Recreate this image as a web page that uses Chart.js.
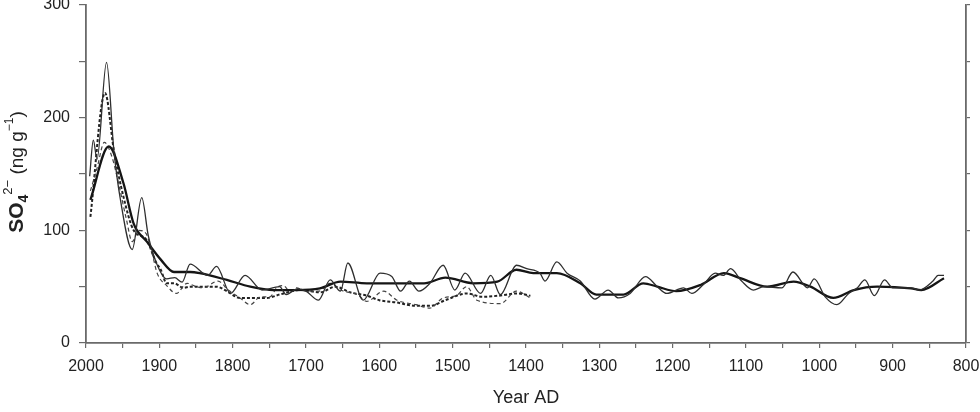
<!DOCTYPE html>
<html>
<head>
<meta charset="utf-8">
<script src="https://cdn.jsdelivr.net/npm/chart.js@4"></script>
<style>
  html, body { margin: 0; padding: 0; background: #fff; }
  #wrap { width: 980px; height: 412px; }
</style>
</head>
<body>
<div id="wrap"><canvas id="chart" width="980" height="412"></canvas></div>
<script>
// ============================================================
// Data
// ============================================================

// thin solid line, long core
const thinYears = [1995, 1990, 1985, 1972, 1962, 1953, 1937, 1924, 1915, 1904, 1890, 1879, 1869, 1858, 1834, 1822, 1803, 1783, 1760, 1736, 1727, 1712, 1700, 1683, 1667, 1653, 1643, 1622, 1599, 1583, 1571, 1559, 1546, 1531, 1513, 1497, 1483, 1462, 1448, 1435, 1413, 1399, 1381, 1374, 1358, 1344, 1326, 1306, 1288, 1274, 1258, 1237, 1221, 1208, 1185, 1174, 1158, 1142, 1131, 1121, 1106, 1090, 1076, 1051, 1036, 1016, 1007, 992, 976, 960, 948, 938, 925, 911, 900, 875, 864, 845, 838, 830];
const thinValues = [148, 180, 163, 249, 171, 127, 83, 129, 95, 71, 57, 58, 54, 70, 60, 68, 44, 60, 47, 50, 43, 48, 46, 38, 56, 46, 71, 38, 62, 59, 46, 55, 46, 53, 69, 47, 62, 44, 60, 43, 69, 66, 62, 55, 72, 62, 55, 39, 47, 40, 44, 59, 50, 44, 49, 44, 52, 62, 60, 66, 55, 47, 50, 49, 63, 49, 57, 41, 34, 44, 49, 56, 42, 56, 49, 49, 47, 55, 60, 60];

// thick solid line, smoothed long core
const thickYears = [1994, 1969, 1949, 1935, 1917, 1898, 1880, 1858, 1845, 1808, 1776, 1744, 1713, 1681, 1653, 1617, 1585, 1539, 1510, 1472, 1439, 1413, 1390, 1358, 1326, 1304, 1267, 1240, 1221, 1195, 1162, 1130, 1108, 1071, 1035, 1012, 981, 953, 921, 875, 861, 830];
const thickValues = [127, 174.5, 142, 106, 90, 74, 63, 63, 62, 56, 50, 47, 47, 48.5, 54.5, 53, 53, 53, 58, 53, 54.5, 65, 62, 62, 53, 43, 43, 53, 50, 46, 51.5, 62, 57.5, 50, 54.5, 50, 40, 47, 50, 48.5, 47, 57.5];

// thin dashed line, short core
const dashYears = [1994, 1985, 1975, 1965, 1955, 1945, 1937, 1928, 1918, 1910, 1903, 1890, 1877, 1862, 1850, 1840, 1820, 1806, 1790, 1776, 1762, 1749, 1740, 1731, 1722, 1713, 1700, 1683, 1667, 1653, 1630, 1617, 1594, 1576, 1550, 1531, 1513, 1495, 1481, 1467, 1435, 1413, 1394];
const dashValues = [135, 155, 178, 166, 140, 110, 90, 100, 97, 80, 62, 51, 44, 53, 50, 49, 55, 47, 40, 34, 41, 41, 49, 51, 46, 49, 46, 46, 53, 47, 43, 37, 46, 38, 34, 31, 40, 42, 50, 38, 35, 46, 40];

// heavy dashed line, smoothed short core
const dotYears = [1994, 1974, 1962, 1949, 1935, 1918, 1904, 1898, 1890, 1880, 1867, 1858, 1822, 1808, 1790, 1753, 1736, 1708, 1680, 1660, 1640, 1617, 1600, 1577, 1550, 1530, 1510, 1480, 1460, 1437, 1412, 1394];
const dotValues = [112, 222, 171, 130, 100, 92, 71, 65, 53, 53, 49, 50, 50, 46, 40, 40, 43, 47, 45, 50, 45, 42, 38, 36, 33, 33, 38, 44, 41, 42, 44, 42];

// axis ticks
const yearTicks = [2000, 1900, 1800, 1700, 1600, 1500, 1400, 1300, 1200, 1100, 1000, 900, 800];
const valueTicks = [0, 100, 200, 300];

// ============================================================
// Helpers
// ============================================================

function toPoints(xs, ys) {
  return xs.map((x, i) => ({ x: x, y: ys[i] }));
}

function line(label, xs, ys, color, width, dash) {
  return {
    label: label,
    data: toPoints(xs, ys),
    borderColor: color,
    borderWidth: width,
    borderDash: dash,
    pointRadius: 0,
    fill: false,
    cubicInterpolationMode: 'monotone'
  };
}

// y axis title with sub/superscripts, drawn as text pieces
const yTitlePlugin = {
  id: 'yTitle',
  afterDraw(chart) {
    const ctx = chart.ctx;
    const parts = [
      { t: 'SO', font: 'bold 21px "Liberation Sans", Arial', dy: 0 },
      { t: '4', font: 'bold 14px "Liberation Sans", Arial', dy: 5 },
      { t: '2\u2212', font: '13px "Liberation Sans", Arial', dy: -11 },
      { t: ' (ng g', font: '19px "Liberation Sans", Arial', dy: 0 },
      { t: '\u22121', font: '12px "Liberation Sans", Arial', dy: -10 },
      { t: ')', font: '19px "Liberation Sans", Arial', dy: 0 }
    ];
    ctx.save();
    let total = 0;
    parts.forEach(p => { ctx.font = p.font; p.w = ctx.measureText(p.t).width; total += p.w; });
    ctx.translate(23, 172 + total / 2);
    ctx.rotate(-Math.PI / 2);
    ctx.fillStyle = '#222';
    ctx.textBaseline = 'alphabetic';
    ctx.textAlign = 'left';
    let x = 0;
    parts.forEach(p => {
      ctx.font = p.font;
      ctx.fillText(p.t, x, p.dy);
      x += p.w;
    });
    ctx.restore();
  }
};

// ============================================================
// Chart
// ============================================================

const axisColor = '#6a6a6a';
const tickFont = { family: '"Liberation Sans", Arial', size: 16 };

new Chart(document.getElementById('chart'), {
  type: 'line',
  data: {
    datasets: [
      line('thin', thinYears, thinValues, '#2e2e2e', 1.3, []),
      line('thick', thickYears, thickValues, '#151515', 2.3, []),
      line('dash', dashYears, dashValues, '#444', 1.2, [4, 3]),
      line('dot', dotYears, dotValues, '#222', 2, [3, 2])
    ]
  },
  options: {
    responsive: false,
    animation: false,
    layout: { padding: { top: 5, left: 0, right: 0, bottom: 0 } },
    plugins: { legend: { display: false }, tooltip: { enabled: false } },
    scales: {
      x: {
        type: 'linear',
        position: 'bottom',
        reverse: true,
        min: 800,
        max: 2000,
        ticks: {
          stepSize: 50,
          autoSkip: false,
          maxRotation: 0,
          padding: 9,
          color: '#222',
          font: tickFont,
          callback: v => yearTicks.includes(v) ? String(v) : ''
        },
        grid: { drawOnChartArea: false, tickLength: 5, color: axisColor, lineWidth: 1.2 },
        border: { color: axisColor, width: 1.8 },
        title: {
          display: true,
          text: 'Year AD',
          color: '#222',
          font: { family: '"Liberation Sans", Arial', size: 18 },
          padding: { top: 0, bottom: 3 }
        },
        afterFit(scale) {
          scale.height = 69;
          scale.paddingLeft = 0;
          scale.paddingRight = 0;
        }
      },
      y: {
        position: 'left',
        min: 0,
        max: 300,
        ticks: {
          stepSize: 50,
          padding: 9,
          color: '#222',
          font: tickFont,
          callback: v => valueTicks.includes(v) ? String(v) : ''
        },
        grid: { drawOnChartArea: false, tickLength: 7, color: axisColor, lineWidth: 1.2 },
        border: { color: axisColor, width: 1.8 },
        afterFit(scale) {
          scale.width = 86;
          scale.paddingTop = 0;
          scale.paddingBottom = 0;
        }
      },
      y2: {
        position: 'right',
        min: 0,
        max: 300,
        ticks: { stepSize: 50, callback: () => '' },
        grid: { drawOnChartArea: false, tickLength: 4, color: axisColor, lineWidth: 1.2 },
        border: { color: axisColor, width: 1.8 },
        afterFit(scale) {
          scale.width = 14;
          scale.paddingTop = 0;
          scale.paddingBottom = 0;
        }
      }
    }
  },
  plugins: [yTitlePlugin]
});
</script>
</body>
</html>
